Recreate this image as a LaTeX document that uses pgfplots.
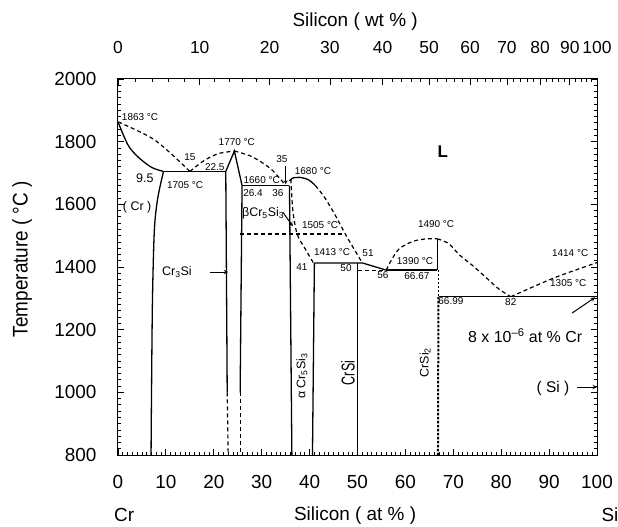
\documentclass[border=0pt]{standalone}
\usepackage{fontspec}
\setmainfont{Liberation Sans}
\usepackage{pgfplots}
\pgfplotsset{compat=1.18}
\begin{document}
\begin{tikzpicture}[
  ph/.style={black, line width=1.3bp},
  phd/.style={black, line width=1.2bp, dash pattern=on 4bp off 3bp},
  sm/.style={font=\fontsize{10}{12}\selectfont, inner sep=0pt},
  md/.style={font=\fontsize{12.5}{14}\selectfont, inner sep=0pt},
  bg/.style={font=\fontsize{19}{22}\selectfont, inner sep=0pt},
]
\begin{axis}[
  name=ax, at={(0,0)}, anchor=south west,
  scale only axis, width=479bp, height=376bp,
  xmin=0, xmax=100, ymin=800, ymax=2000,
  clip=false,
  axis line style={line width=1bp},
  xtick={0,10,...,100}, ytick={800,1000,...,2000},
  minor x tick num=9, minor y tick num=9,
  xtick pos=left, ytick pos=both, yticklabel pos=left,
  tick align=inside,
  major tick length=6bp, minor tick length=3.5bp,
  every tick/.style={black, line width=0.8bp},
  tick label style={font=\fontsize{19}{22}\selectfont},
  /pgf/number format/assume math mode=true,
  /pgf/number format/1000 sep={},
  xticklabel shift=17bp, yticklabel shift=18bp,
]
% (Cr) side
\addplot[ph, smooth] coordinates {(0,1863) (2.1,1789) (4.2,1751) (7,1718) (9.5,1705)};
\addplot[ph, smooth] coordinates {(9.5,1705) (8.3,1620) (7.6,1520) (7.2,1300) (7.0,1000) (6.9,800)};
\addplot[ph] coordinates {(9.5,1705) (22.5,1705)};
\addplot[phd, smooth] coordinates {(0,1863) (7.7,1805) (15,1705)};
\addplot[phd, smooth] coordinates {(15,1705) (18,1740) (21,1762) (24.3,1770)};
% Cr3Si
\addplot[ph] coordinates {(22.5,1705) (24.3,1770) (25.9,1660)};
\addplot[ph] coordinates {(22.5,1705) (22.8,1000)};
\addplot[phd] coordinates {(22.8,1000) (23.0,800)};
\addplot[ph] coordinates {(25.9,1660) (25.5,1000)};
\addplot[phd] coordinates {(25.5,1000) (25.5,800)};
\addplot[ph] coordinates {(25.9,1660) (35.8,1660)};
\addplot[phd, smooth] coordinates {(24.3,1770) (28,1752) (32,1712) (35,1660)};
% Cr5Si3
\addplot[ph] coordinates {(35.8,1660) (36.3,800)};
\addplot[ph, smooth] coordinates {(35.8,1675) (36.5,1684) (38,1686) (39.8,1678) (41.2,1660)};
\addplot[phd, smooth] coordinates {(41.2,1660) (43,1625) (45,1575) (47.8,1496) (51,1413)};
\addplot[phd, smooth] coordinates {(36.1,1680) (36.5,1580) (37.4,1505) (39,1460) (40.8,1413)};
\addplot[phd] coordinates {(25.5,1505) (47.4,1505)};
% CrSi
\addplot[ph] coordinates {(41,1413) (51,1413) (56,1390)};
\addplot[ph] coordinates {(41,1413) (40.6,800)};
\addplot[ph] coordinates {(50,1413) (50,800)};
\addplot[phd] coordinates {(50,1390) (56,1390)};
\addplot[ph] coordinates {(56,1390) (66.67,1390)};
% CrSi2
\addplot[phd, smooth] coordinates {(56,1390) (57,1420) (58.7,1458) (61.6,1482) (64.5,1490) (66.67,1490)};
\addplot[phd, smooth] coordinates {(66.67,1490) (69,1475) (71.4,1437) (74,1405) (77,1364) (79.5,1330) (82,1305)};
\addplot[phd, smooth] coordinates {(82,1305) (91,1365) (100,1414)};
\addplot[ph] coordinates {(66.67,1490) (66.67,1390)};
\addplot[black, line width=0.9bp, dash pattern=on 2bp off 2bp] coordinates {(66.8,1390) (66.8,1305)};
\addplot[black, line width=2bp, dash pattern=on 2.5bp off 1.5bp] coordinates {(66.9,1305) (66.8,800)};
\addplot[ph] coordinates {(66.99,1305) (100,1305)};
% arrows
\draw[-stealth, line width=0.8bp] (axis cs:35,1722) -- (axis cs:35,1664);
\draw[-stealth, line width=1bp] (axis cs:34.4,1575) -- (axis cs:36.5,1530);
\draw[-stealth, line width=1bp] (axis cs:19.2,1384) -- (axis cs:23.0,1384);
\draw[-stealth, line width=1bp] (axis cs:94.8,1253) -- (axis cs:99.6,1303);
\draw[-stealth, line width=1bp] (axis cs:95.8,1017) -- (axis cs:100,1017);
% small labels
\node[sm] at (axis cs:4.6,1879) {1863 °C};
\node[md] at (axis cs:5.6,1684) {9.5};
\node[md] at (axis cs:4.0,1592) {( Cr )};
\node[sm] at (axis cs:15.0,1751) {15};
\node[sm] at (axis cs:20.2,1719) {22.5};
\node[sm] at (axis cs:14.0,1662) {1705 °C};
\node[sm] at (axis cs:24.8,1800) {1770 °C};
\node[sm] at (axis cs:30.0,1677) {1660 °C};
\node[sm] at (axis cs:28.2,1636) {26.4};
\node[sm] at (axis cs:33.4,1636) {36};
\node[sm] at (axis cs:34.2,1745) {35};
\node[sm] at (axis cs:40.7,1706) {1680 °C};
\node[md] at (axis cs:30.3,1572) {βCr\textsubscript{5}Si\textsubscript{3}};
\node[sm] at (axis cs:42.2,1534) {1505 °C};
\node[sm] at (axis cs:44.7,1448) {1413 °C};
\node[sm] at (axis cs:38.4,1400) {41};
\node[sm] at (axis cs:47.6,1397) {50};
\node[sm] at (axis cs:52.2,1445) {51};
\node[sm] at (axis cs:55.3,1374) {56};
\node[sm] at (axis cs:62.0,1419) {1390 °C};
\node[sm] at (axis cs:62.4,1371) {66.67};
\node[sm] at (axis cs:66.4,1537) {1490 °C};
\node[font=\fontsize{17}{20}\selectfont\bfseries, inner sep=0pt] at (axis cs:67.8,1767) {L};
\node[sm] at (axis cs:94.4,1445) {1414 °C};
\node[sm] at (axis cs:94.0,1349) {1305 °C};
\node[sm] at (axis cs:69.5,1291) {66.99};
\node[sm] at (axis cs:82.0,1288) {82};
\node[font=\fontsize{16}{19}\selectfont, inner sep=0pt] at (axis cs:85,1180) {8 x 10\textsuperscript{–6} at \% Cr};
\node[font=\fontsize{15.5}{18}\selectfont, inner sep=0pt] at (axis cs:90.8,1012) {( Si )};
\node[md] at (axis cs:12.3,1384) {Cr\textsubscript{3}Si};
\node[md, rotate=90] at (axis cs:38.4,1052) {α Cr\textsubscript{5}Si\textsubscript{3}};
\node[md, rotate=90, yscale=1.5] at (axis cs:48.0,1062) {CrSi};
\node[md, rotate=90] at (axis cs:64.1,1095) {CrSi\textsubscript{2}};
% axis titles
\node[bg] at (axis cs:49.5,2182) {Silicon ( wt \% )};
\node[bg] at (axis cs:49.5,608) {Silicon ( at \% )};
\node[bg] at (axis cs:1.3,608) {Cr};
\node[bg] at (axis cs:102.7,608) {Si};
\node[bg, rotate=90, yscale=1.12] at (axis cs:-20,1425) {Temperature ( °C )};
\end{axis}
\begin{axis}[
  at={(0,0)}, anchor=south west,
  scale only axis, width=479bp, height=376bp,
  xmin=0, xmax=100, ymin=800, ymax=2000,
  axis x line*=top, axis y line=none,
  axis line style={line width=1bp},
  xtick={0,17.06,31.64,44.24,55.24,64.93,73.52,81.20,88.10,94.34,100},
  xticklabels={0,10,20,30,40,50,60,70,80,90,100},
  minor xtick={3.64,7.16,10.57,13.87,20.16,23.16,26.07,28.90,34.30,36.89,39.41,41.86,46.56,48.81,51.01,53.15,57.28,59.26,61.20,63.08,66.73,68.49,70.20,71.88,75.13,76.70,78.23,79.73,82.64,84.05,85.43,86.78,89.40,90.67,91.92,93.14,95.51,96.67,97.80,98.91},
  tick align=inside,
  major tick length=6bp, minor tick length=3.5bp,
  every tick/.style={black, line width=0.8bp},
  tick label style={font=\fontsize{17.5}{20}\selectfont},
  xticklabel shift=22bp,
]
\addplot[draw=none] coordinates {(0,800) (100,2000)};
\end{axis}
\pgfresetboundingbox
\path (-118bp,-72bp) rectangle (500bp,455bp);
\end{tikzpicture}
\end{document}
